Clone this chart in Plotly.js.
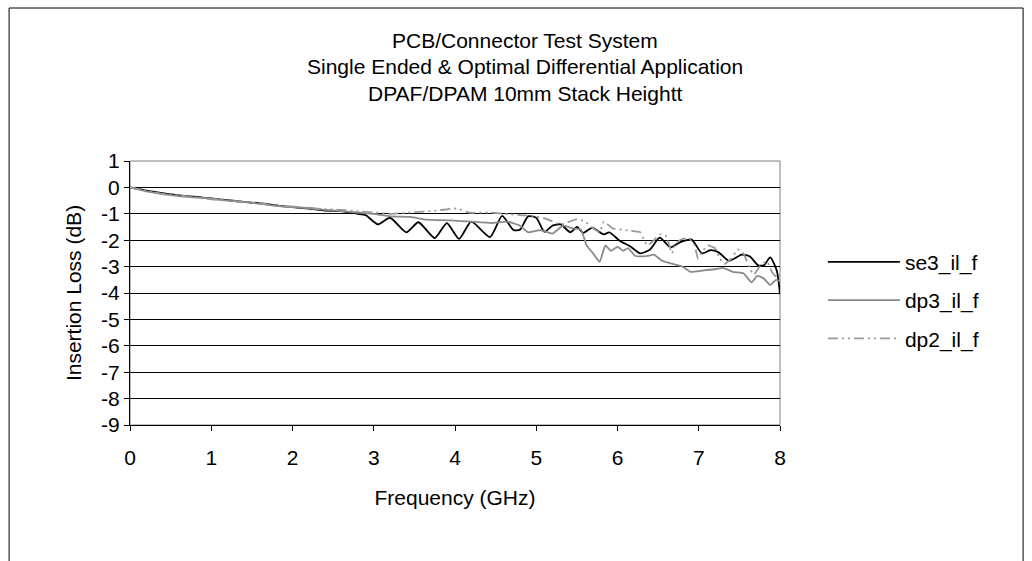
<!DOCTYPE html>
<html>
<head>
<meta charset="utf-8">
<script src="https://cdn.plot.ly/plotly-3.0.1.min.js"></script>
<style>html,body{margin:0;padding:0;background:#fff}#chart{width:1032px;height:561px}</style>
</head>
<body>
<div id="chart"></div>
<script>
const titleLines = ["PCB/Connector Test System", "Single Ended & Optimal Differential Application", "DPAF/DPAM 10mm Stack Heightt"];
const xTitle = "Frequency (GHz)";
const yTitle = "Insertion Loss (dB)";
const xTickVals = [0,1,2,3,4,5,6,7,8];
const xTickText = ["0","1","2","3","4","5","6","7","8"];
const yTickVals = [1,0,-1,-2,-3,-4,-5,-6,-7,-8,-9];
const yTickText = ["1","0","-1","-2","-3","-4","-5","-6","-7","-8","-9"];

const se3Name = "se3_il_f";
const se3F = [0,0.2,0.4,0.6,0.8,1.0,1.2,1.4,1.6,1.8,2.0,2.2,2.4,2.6,2.8,2.9,3.05,3.2,3.4,3.55,3.75,3.9,4.05,4.2,4.43,4.58,4.72,4.8,4.9,5.0,5.1,5.2,5.3,5.42,5.5,5.58,5.69,5.83,5.9,6.03,6.15,6.28,6.4,6.52,6.65,6.77,6.91,7.04,7.14,7.24,7.37,7.53,7.63,7.73,7.8,7.88,7.96,8.0];
const se3V = [0,-0.12,-0.22,-0.3,-0.35,-0.42,-0.48,-0.55,-0.6,-0.68,-0.75,-0.8,-0.88,-0.9,-1.0,-1.05,-1.4,-1.15,-1.7,-1.32,-1.92,-1.35,-1.95,-1.3,-1.88,-1.08,-1.62,-1.6,-1.1,-1.15,-1.68,-1.45,-1.4,-1.7,-1.5,-1.72,-1.52,-1.78,-1.7,-2.03,-2.22,-2.5,-2.35,-1.9,-2.27,-2.08,-1.97,-2.5,-2.38,-2.45,-2.78,-2.55,-2.62,-2.95,-2.95,-2.65,-3.15,-4.05];

const dp3Name = "dp3_il_f";
const dp3F = [0,0.2,0.4,0.6,0.8,1.0,1.2,1.4,1.6,1.8,2.0,2.2,2.4,2.6,2.8,3.0,3.2,3.45,3.65,3.95,4.2,4.45,4.65,4.8,4.9,5.05,5.2,5.33,5.45,5.55,5.62,5.7,5.78,5.85,5.92,6.0,6.07,6.13,6.22,6.36,6.45,6.55,6.68,6.8,6.9,7.05,7.2,7.3,7.42,7.55,7.65,7.72,7.8,7.88,7.95,8.0];
const dp3V = [0,-0.15,-0.25,-0.33,-0.38,-0.42,-0.5,-0.55,-0.62,-0.7,-0.75,-0.78,-0.85,-0.9,-0.95,-1.0,-1.1,-1.12,-1.22,-1.25,-1.3,-1.35,-1.3,-1.45,-1.7,-1.62,-1.75,-1.45,-1.55,-1.6,-2.2,-2.5,-2.82,-2.2,-2.4,-2.25,-2.4,-2.3,-2.6,-2.6,-2.55,-2.78,-2.9,-3.0,-3.2,-3.15,-3.1,-3.05,-3.2,-3.25,-3.6,-3.35,-3.45,-3.7,-3.5,-3.55];

const dp2Name = "dp2_il_f";
const dp2F = [0,0.2,0.4,0.6,0.8,1.0,1.2,1.4,1.6,1.8,2.0,2.2,2.4,2.6,2.8,3.0,3.2,3.45,3.77,4.02,4.18,4.43,4.6,4.8,5.0,5.13,5.3,5.5,5.6,5.7,5.78,5.83,5.94,6.1,6.28,6.32,6.37,6.45,6.52,6.6,6.67,6.72,6.8,6.88,6.95,6.99,7.05,7.11,7.2,7.26,7.32,7.4,7.48,7.55,7.63,7.68,7.75,7.84,7.9,7.96,8.0];
const dp2V = [0,-0.13,-0.25,-0.3,-0.38,-0.45,-0.5,-0.55,-0.6,-0.7,-0.72,-0.78,-0.82,-0.85,-0.9,-0.95,-1.0,-0.95,-0.88,-0.8,-0.96,-0.95,-1.0,-1.05,-1.1,-1.2,-1.4,-1.2,-1.3,-1.55,-1.7,-1.3,-1.55,-1.62,-1.7,-1.95,-2.2,-2.0,-1.78,-1.85,-2.5,-2.1,-1.95,-1.95,-2.2,-2.7,-2.4,-2.2,-2.3,-2.7,-2.9,-2.7,-2.35,-2.5,-3.1,-3.3,-3.0,-2.8,-3.2,-3.4,-3.3];

const FONT = "Liberation Sans, Arial, sans-serif";
const FS = 21;

const traces = [
  {x: se3F, y: se3V, name: se3Name, type: "scatter", mode: "lines", legendgroup: "a",
   line: {color: "#000000", width: 1.8, shape: "spline", smoothing: 0.6}},
  {x: dp3F, y: dp3V, name: dp3Name, type: "scatter", mode: "lines", legendgroup: "b",
   line: {color: "#8a8a8a", width: 1.8, shape: "spline", smoothing: 0.4}},
  {x: dp2F, y: dp2V, name: dp2Name, type: "scatter", mode: "lines", legendgroup: "c",
   line: {color: "#999999", width: 1.8, dash: "10px,4px,2px,4px,2px,4px", shape: "spline", smoothing: 0.4}}
];

const annotations = titleLines.map((t, i) => ({
  text: t, xref: "paper", yref: "paper", x: 0.608, y: [1.458, 1.358, 1.256][i],
  xanchor: "center", yanchor: "middle", showarrow: false,
  font: {family: FONT, size: FS, color: "#000"}
}));

const layout = {
  width: 1032, height: 561,
  margin: {l: 130, r: 252, t: 161, b: 136, pad: 0},
  paper_bgcolor: "#ffffff", plot_bgcolor: "#ffffff",
  font: {family: FONT, size: FS, color: "#000"},
  showlegend: true,
  legend: {x: 1.066, xanchor: "left", y: 0.473, yanchor: "middle",
           traceorder: "grouped", tracegroupgap: 8, itemwidth: 72,
           font: {family: FONT, size: FS, color: "#000"}, bgcolor: "rgba(0,0,0,0)"},
  xaxis: {range: [0, 8], tickvals: xTickVals, ticktext: xTickText,
          showgrid: false, zeroline: false, showline: true, linecolor: "#000", linewidth: 1,
          ticks: "outside", ticklen: 5, tickcolor: "#000", ticklabelstandoff: 9,
          tickfont: {family: FONT, size: FS},
          title: {text: xTitle, font: {family: FONT, size: FS}, standoff: 22}},
  yaxis: {range: [-9, 1], tickvals: yTickVals, ticktext: yTickText,
          showgrid: true, gridcolor: "#000", gridwidth: 1, zeroline: false,
          showline: true, linecolor: "#000", linewidth: 1,
          ticks: "outside", ticklen: 5, tickcolor: "#000",
          tickfont: {family: FONT, size: FS},
          title: {text: yTitle, font: {family: FONT, size: FS}, standoff: 13}},
  annotations: annotations,
  shapes: [
    {type: "rect", xref: "paper", yref: "paper", x0: 0, x1: 1, y0: 0, y1: 1,
     line: {color: "#808080", width: 1}, layer: "below"},
    {type: "rect", xref: "paper", yref: "paper", x0: -0.186, x1: 1.374, y0: -1, y1: 1.5795,
     line: {color: "#000", width: 1}}
  ]
};

Plotly.newPlot("chart", traces, layout, {displayModeBar: false, staticPlot: true});
</script>
</body>
</html>
